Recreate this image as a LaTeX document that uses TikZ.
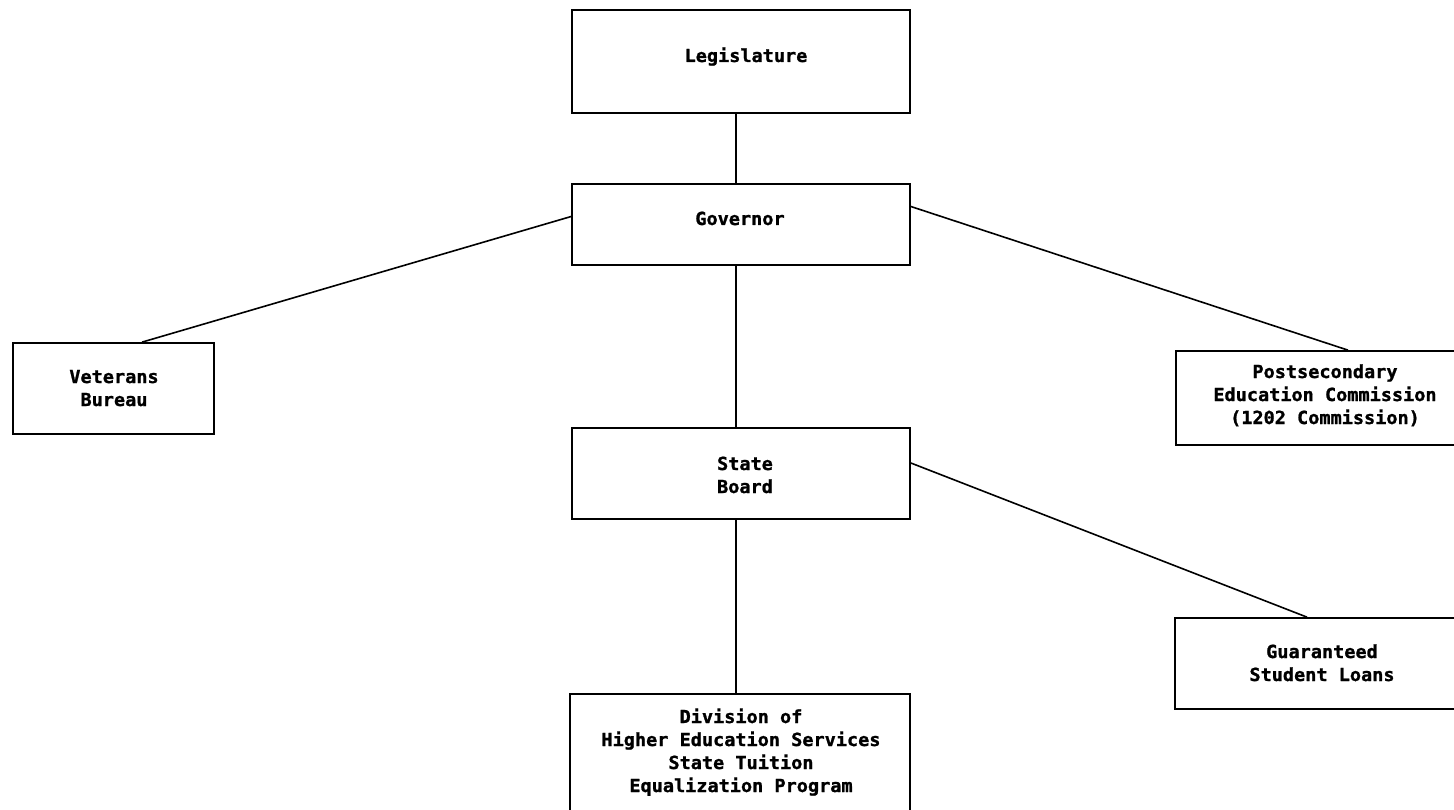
\documentclass[tikz,border=0pt]{standalone}
\usepackage{fontspec}
\setmonofont[FakeStretch=1.03,BoldFeatures={FakeBold=1.2}]{DejaVu Sans Mono}
\newcommand{\mlines}[1]{\begin{tabular}[t]{@{}c@{}}#1\end{tabular}}
\tikzset{
  box/.style={draw=black, line width=1.7pt, inner sep=0pt, fill=none},
  txt/.style={inner sep=0pt, anchor=base, text=black,
    font=\ttfamily\bfseries\fontsize{18}{23}\selectfont},
  link/.style={draw=black, line width=1.6pt}
}
\begin{document}
\begin{tikzpicture}[x=1pt,y=-1pt]
\useasboundingbox (0,0) rectangle (1454,810);
\fill[white] (0,0) rectangle (1454,810);
\clip (0,0) rectangle (1454,810);
\renewcommand{\arraystretch}{1}
% boxes
\node[box, minimum width=338pt, minimum height=103pt] (leg) at (741,61.5) {};
\node[box, minimum width=338pt, minimum height=81pt] (gov) at (741,224.5) {};
\node[box, minimum width=338pt, minimum height=91pt] (sb) at (741,473.5) {};
\node[box, minimum width=340pt, minimum height=136pt] (div) at (740,762) {};
\node[box, minimum width=201pt, minimum height=91pt] (vet) at (113.5,388.5) {};
\node[box, minimum width=294pt, minimum height=94pt] (ps) at (1323,398) {};
\node[box, minimum width=295pt, minimum height=91pt] (gl) at (1322.5,663.5) {};
% texts
\node[txt] (legt) at (746,62) {Legislature};
\node[txt] (govt) at (740,225) {Governor};
\node[txt] (sbt) at (745,470) {\mlines{State\\Board}};
\node[txt] (vett) at (114,383) {\mlines{Veterans\\Bureau}};
\node[txt] (pst) at (1325,378) {\mlines{Postsecondary\\Education Commission\\(1202 Commission)}};
\node[txt] (glt) at (1322,658) {\mlines{Guaranteed\\Student Loans}};
\node[txt] (divt) at (741,723) {\mlines{Division of\\Higher Education Services\\State Tuition\\Equalization Program}};
% connectors
\draw[link] ([xshift=-5pt]leg.south) -- ([xshift=-5pt]gov.north);
\draw[link] ([xshift=-5pt]gov.south) -- ([xshift=-5pt]sb.north);
\draw[link] ([xshift=-5pt]sb.south) -- ([xshift=-4pt]div.north);
\draw[link] ([yshift=8pt]gov.west) -- ([xshift=28.5pt]vet.north);
\draw[link] ([yshift=18pt]gov.east) -- ([xshift=25pt]ps.north);
\draw[link] ([yshift=10.5pt]sb.east) -- ([xshift=-15.5pt]gl.north);
\end{tikzpicture}
\end{document}
